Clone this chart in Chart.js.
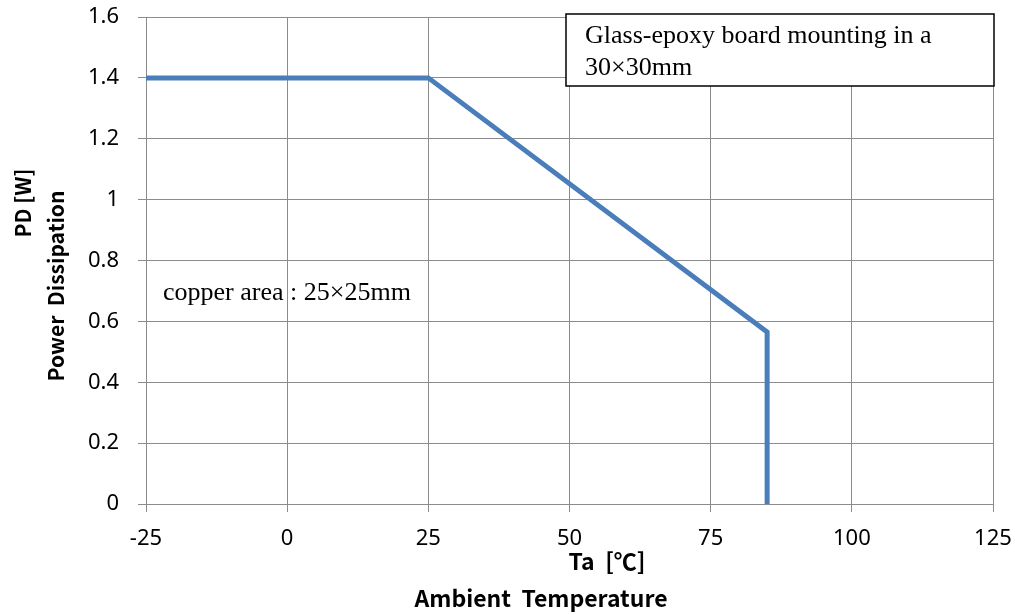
<!DOCTYPE html>
<html>
<head>
<meta charset="utf-8">
<script src="https://cdn.jsdelivr.net/npm/chart.js@4.4.1/dist/chart.umd.min.js"></script>
<style>
  html,body{margin:0;padding:0;background:#fff;}
  #wrap{position:relative;width:1015px;height:615px;}
</style>
</head>
<body>
<div id="wrap"><canvas id="pdChart" width="1015" height="615"></canvas></div>
<script>
// derating curve: Ta [degC] vs PD [W]
const tempC = [-25, 25, 85, 85];
const powerW = [1.4, 1.4, 0.565, 0];
const xTicks = [-25, 0, 25, 50, 75, 100, 125];
const yTicks = [0, 0.2, 0.4, 0.6, 0.8, 1, 1.2, 1.4, 1.6];

const xTitle = ['Ta  [\u2103]', 'Ambient  Temperature'];
const yTitle = ['PD [W]', 'Power  Dissipation'];
const boardNote = ['Glass-epoxy board mounting in a', '30\u00d730mm'];
const copperNote = 'copper area : 25\u00d725mm';

const GRID = '#8c8c8c';
const tickFont = {family:'"Noto Sans", sans-serif', size:22};
const xTitleFont = 'bold 23px "Noto Sans CJK KR", "Noto Sans", sans-serif';
const yTitleFont = 'bold 21px "Noto Sans CJK KR", "Noto Sans", sans-serif';
const noteFont = '26px "Liberation Serif", serif';

/* titles + text boxes */
const notes = {
  id:'notes',
  afterDraw(chart){
    const {ctx} = chart;
    ctx.save();
    ctx.fillStyle = '#000';
    ctx.textAlign = 'center';
    ctx.textBaseline = 'middle';
    // x title, two lines with their own offsets
    ctx.font = xTitleFont;
    ctx.fillText(xTitle[0], 607, 561);
    ctx.fillText(xTitle[1], 541, 598);
    // y title, rotated
    ctx.font = yTitleFont;
    ctx.save();
    ctx.translate(23, 203);
    ctx.rotate(-Math.PI/2);
    ctx.fillText(yTitle[0], 0, 0);
    ctx.restore();
    ctx.save();
    ctx.translate(56, 286);
    ctx.rotate(-Math.PI/2);
    ctx.fillText(yTitle[1], 0, 0);
    ctx.restore();

    // board box, top right
    const bx = 566, by = 14, bw = 428, bh = 72;
    ctx.fillStyle = '#fff';
    ctx.fillRect(bx, by, bw, bh);
    ctx.strokeStyle = '#000';
    ctx.lineWidth = 1.5;
    ctx.strokeRect(bx, by, bw, bh);
    ctx.font = noteFont;
    ctx.fillStyle = '#000';
    ctx.textAlign = 'left';
    ctx.textBaseline = 'alphabetic';
    ctx.fillText(boardNote[0], 585, 43);
    ctx.fillText(boardNote[1], 585, 75);

    // copper note
    ctx.fillText(copperNote, 163, 300);
    ctx.restore();
  }
};

new Chart(document.getElementById('pdChart'), {
  type:'scatter',
  data:{
    datasets:[{
      data: tempC.map((t,i)=>({x:t, y:powerW[i]})),
      showLine:true,
      borderColor:'#4a7ebb',
      borderWidth:5,
      pointRadius:0,
      tension:0,
      borderJoinStyle:'miter'
    }]
  },
  options:{
    responsive:false,
    animation:false,
    layout:{autoPadding:false, padding:{top:17, right:22, left:0, bottom:0}},
    plugins:{legend:{display:false}, tooltip:{enabled:false}},
    scales:{
      x:{
        type:'linear', min:-25, max:125,
        afterBuildTicks(s){ s.ticks = xTicks.map(v=>({value:v})); },
        afterFit(s){ s.height = 111; s.paddingLeft = 0; s.paddingRight = 0; },
        grid:{color:GRID, lineWidth:1, tickLength:8, tickColor:GRID},
        border:{color:GRID, width:1},
        ticks:{color:'#000', font:tickFont, padding:14, maxRotation:0, callback:v=>String(v)}
      },
      y:{
        type:'linear', min:0, max:1.6,
        afterBuildTicks(s){ s.ticks = yTicks.map(v=>({value:v})); },
        afterFit(s){ s.width = 146; s.paddingTop = 0; s.paddingBottom = 0; },
        grid:{color:GRID, lineWidth:1, tickLength:8, tickColor:GRID},
        border:{color:GRID, width:1},
        ticks:{color:'#000', font:tickFont, padding:19, callback:v=>String(v)}
      }
    }
  },
  plugins:[notes]
});
</script>
</body>
</html>
